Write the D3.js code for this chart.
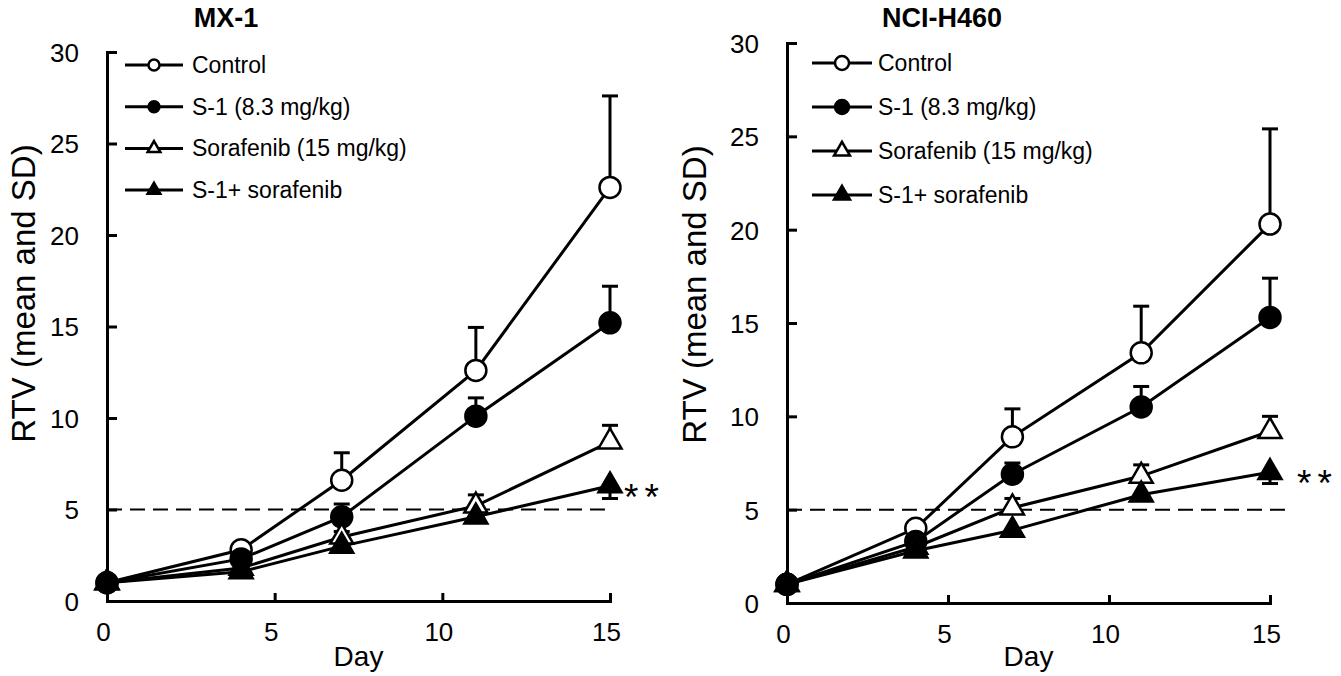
<!DOCTYPE html>
<html>
<head>
<meta charset="utf-8">
<script src="https://cdn.jsdelivr.net/npm/d3@7"></script>
<style>
  body { margin: 0; background: #fff; }
  text { font-family: "Liberation Sans", Arial, sans-serif; fill: #000; }
</style>
</head>
<body>
<svg id="chart" width="1341" height="676"></svg>
<script>
// Days of measurement
const days = [0, 4, 7, 11, 15];
const seriesNames = ["Control", "S-1 (8.3 mg/kg)", "Sorafenib (15 mg/kg)", "S-1+ sorafenib"];
const xTicks = [0, 5, 10, 15];
const yTicks = [0, 5, 10, 15, 20, 25, 30];
const threshold = 5;

// MX-1 means and SDs
const mx1Control = [1.0, 2.8, 6.6, 12.6, 22.6];
const mx1S1 = [1.0, 2.3, 4.6, 10.1, 15.2];
const mx1Sorafenib = [1.0, 1.8, 3.5, 5.2, 8.7];
const mx1Combo = [1.0, 1.6, 3.0, 4.6, 6.3];
const mx1ControlSD = [0.1, 0.4, 1.5, 2.35, 5.0];
const mx1S1SD = [0.1, 0.3, 0.7, 1.0, 2.0];
const mx1SorafenibSD = [0.1, 0.2, 0.3, 0.6, 0.9];
const mx1ComboSD = [0.1, 0.2, 0.3, 0.3, 0.7];

// NCI-H460 means and SDs
const h460Control = [1.0, 4.0, 8.9, 13.4, 20.3];
const h460S1 = [1.0, 3.3, 6.9, 10.5, 15.3];
const h460Sorafenib = [1.0, 3.0, 5.1, 6.8, 9.2];
const h460Combo = [1.0, 2.8, 3.9, 5.8, 7.0];
const h460ControlSD = [0.1, 0.3, 1.5, 2.5, 5.1];
const h460S1SD = [0.1, 0.3, 0.6, 1.1, 2.1];
const h460SorafenibSD = [0.1, 0.2, 0.5, 0.6, 0.8];
const h460ComboSD = [0.1, 0.2, 0.3, 0.3, 0.6];

// marker style per series: shape, fill, error bar drawn up or down
const styles = [
  { shape: "circle", fill: "#fff", up: true },
  { shape: "circle", fill: "#000", up: true },
  { shape: "triangle", fill: "#fff", up: true },
  { shape: "triangle", fill: "#000", up: false }
];

const panels = [
  {
    title: "MX-1", titleX: 226,
    means: [mx1Control, mx1S1, mx1Sorafenib, mx1Combo],
    sds: [mx1ControlSD, mx1S1SD, mx1SorafenibSD, mx1ComboSD],
    xRange: [107, 610], yRange: [601, 52], labelX: 35,
    legend: { x1: 125, x2: 183, text: 192, y: 65, step: 41.7, r: 5.5, tri: 70 },
    dashEnd: 14.85, starDx: 14
  },
  {
    title: "NCI-H460", titleX: 942,
    means: [h460Control, h460S1, h460Sorafenib, h460Combo],
    sds: [h460ControlSD, h460S1SD, h460SorafenibSD, h460ComboSD],
    xRange: [787, 1270], yRange: [603, 43], labelX: 706,
    legend: { x1: 812, x2: 872, text: 878, y: 63, step: 44, r: 7, tri: 110 },
    dashEnd: 15.7, starDx: 27
  }
];

const svg = d3.select("#chart");

function marker(g, shape, fill, cx, cy, r, triSize) {
  if (shape === "circle") {
    g.append("circle")
      .attr("cx", cx).attr("cy", cy).attr("r", r)
      .attr("fill", fill).attr("stroke", "#000").attr("stroke-width", 2.5);
  } else {
    g.append("path")
      .attr("d", d3.symbol().type(d3.symbolTriangle).size(triSize)())
      .attr("transform", `translate(${cx},${cy})`)
      .attr("fill", fill).attr("stroke", "#000").attr("stroke-width", 2.5);
  }
}

panels.forEach(p => {
  const g = svg.append("g");

  const x = d3.scaleLinear().domain([0, 15]).range(p.xRange);
  const y = d3.scaleLinear().domain([0, 30]).range(p.yRange);

  // title
  g.append("text")
    .attr("x", p.titleX).attr("y", 27)
    .attr("text-anchor", "middle")
    .attr("font-size", "27px").attr("font-weight", "bold")
    .text(p.title);

  // axes, ticks pointing inward
  const yAxis = g.append("g")
    .attr("transform", `translate(${p.xRange[0]},0)`)
    .call(d3.axisLeft(y).tickValues(yTicks).tickSizeInner(-10).tickSizeOuter(0).tickPadding(28));

  const xAxis = g.append("g")
    .attr("transform", `translate(0,${p.yRange[0]})`)
    .call(d3.axisBottom(x).tickValues(xTicks).tickSizeInner(-8).tickSizeOuter(0).tickPadding(22));

  [yAxis, xAxis].forEach(a => {
    a.select(".domain").attr("stroke", "#000").attr("stroke-width", 3).attr("stroke-linecap", "square");
    a.selectAll(".tick line").attr("stroke", "#000").attr("stroke-width", 3);
    a.selectAll(".tick text")
      .attr("font-size", "26px")
      .attr("font-family", "'Liberation Sans', Arial, sans-serif")
      .attr("fill", "#000");
  });
  xAxis.selectAll(".tick text").attr("dx", -4);
  yAxis.selectAll(".tick text").attr("dy", "0.36em");

  // axis labels
  g.append("text")
    .attr("transform", `translate(${p.labelX},${(p.yRange[0] + 52) / 2 - 33}) rotate(-90)`)
    .attr("text-anchor", "middle")
    .attr("font-size", "33px")
    .text("RTV (mean and SD)");

  g.append("text")
    .attr("x", (p.xRange[0] + p.xRange[1]) / 2)
    .attr("y", 666)
    .attr("text-anchor", "middle")
    .attr("font-size", "28px")
    .text("Day");

  // dashed threshold line at RTV = 5
  g.append("line")
    .attr("x1", x(0)).attr("x2", x(p.dashEnd))
    .attr("y1", y(threshold)).attr("y2", y(threshold))
    .attr("stroke", "#000").attr("stroke-width", 2)
    .attr("stroke-dasharray", "15,8");

  const line = d3.line().x((d, i) => x(days[i])).y(d => y(d));

  p.means.forEach((vals, si) => {
    const st = styles[si];
    const sd = p.sds[si];
    const sg = g.append("g");

    // one-sided error bars
    vals.forEach((v, i) => {
      const yEnd = st.up ? y(v + sd[i]) : y(v - sd[i]);
      sg.append("line")
        .attr("x1", x(days[i])).attr("x2", x(days[i]))
        .attr("y1", y(v)).attr("y2", yEnd)
        .attr("stroke", "#000").attr("stroke-width", 3);
      sg.append("line")
        .attr("x1", x(days[i]) - 8).attr("x2", x(days[i]) + 8)
        .attr("y1", yEnd).attr("y2", yEnd)
        .attr("stroke", "#000").attr("stroke-width", 3);
    });

    sg.append("path")
      .datum(vals)
      .attr("d", line)
      .attr("fill", "none")
      .attr("stroke", "#000")
      .attr("stroke-width", 3);

    vals.forEach((v, i) => {
      marker(sg, st.shape, st.fill, x(days[i]), y(v), 10.5, 230);
    });
  });

  // significance mark next to the combination group
  const comboLast = p.means[3][days.length - 1];
  g.append("text")
    .attr("x", x(15) + p.starDx)
    .attr("y", y(comboLast) + 24)
    .attr("font-family", "'DejaVu Sans', sans-serif")
    .attr("font-size", "37px")
    .attr("letter-spacing", "6px")
    .text("**");

  // legend
  const L = p.legend;
  seriesNames.forEach((name, i) => {
    const ly = L.y + i * L.step;
    g.append("line")
      .attr("x1", L.x1).attr("x2", L.x2)
      .attr("y1", ly).attr("y2", ly)
      .attr("stroke", "#000").attr("stroke-width", 3);
    marker(g, styles[i].shape, styles[i].fill, (L.x1 + L.x2) / 2, ly, L.r, L.tri);
    g.append("text")
      .attr("x", L.text).attr("y", ly + 8)
      .attr("font-size", "23px")
      .text(name);
  });
});
</script>
</body>
</html>
